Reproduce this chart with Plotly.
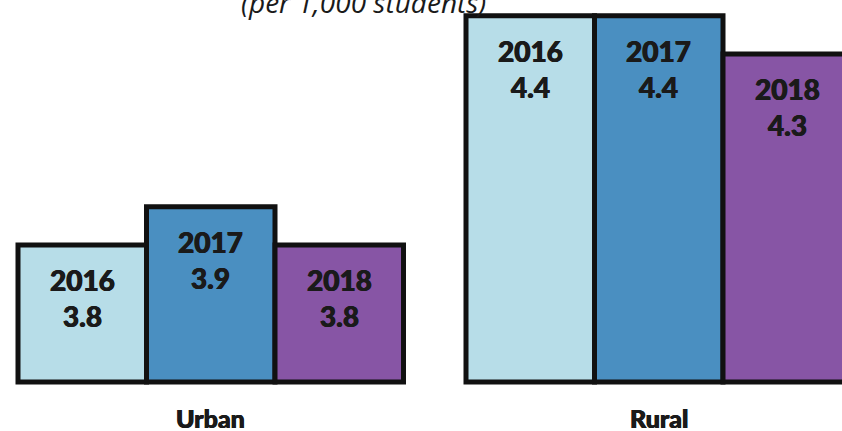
import plotly.graph_objects as go

# Rates per 1,000 students by locale and year
locales = ["Urban", "Rural"]
years = ["2016", "2017", "2018"]
rate_2016 = [3.8, 4.4]
rate_2017 = [3.9, 4.4]
rate_2018 = [3.8, 4.3]

series = {"2016": rate_2016, "2017": rate_2017, "2018": rate_2018}
colors = {"2016": "#B7DDE8", "2017": "#4A8FC1", "2018": "#8755A5"}

BASELINE = 3.441          # value axis starts here (truncated scale)
PX_PER_UNIT = 381.8
BARGAP = 0.1395
FONT = "Lato, 'Open Sans', sans-serif"
HEAVY = "0.4px 0 0 #1a1a1a, -0.4px 0 0 #1a1a1a"

cat_x = list(range(len(locales)))
bar_w = (1 - BARGAP) / len(years)

fig = go.Figure()
annotations = []
for i, yr in enumerate(years):
    vals = series[yr]
    offset = (i - 1) * bar_w
    fig.add_trace(go.Bar(
        x=[c + offset for c in cat_x],
        y=[v - BASELINE for v in vals],
        base=BASELINE,
        width=bar_w,
        marker=dict(color=colors[yr], line=dict(color="#111111", width=5)),
        name=yr,
        hoverinfo="skip",
    ))
    for c, v in zip(cat_x, vals):
        annotations.append(dict(
            x=c + offset, y=v, xref="x", yref="y",
            text=f"{yr}<br>{v:.1f}",
            showarrow=False, yanchor="top", yshift=-16,
            font=dict(family=FONT, size=28, color="#1a1a1a", weight=900,
                      shadow=HEAVY),
        ))

# Category labels below the bars
for c, name in zip(cat_x, locales):
    annotations.append(dict(
        x=c, y=0, xref="x", yref="paper", text=name,
        showarrow=False, yanchor="middle", yshift=-27,
        font=dict(family=FONT, size=25, color="#1a1a1a", weight=900,
                  shadow=HEAVY),
    ))

# Subtitle
annotations.append(dict(
    x=363 / 842, y=1, xref="paper", yref="paper",
    text="<i>(per 1,000 students)</i>", showarrow=False,
    yanchor="middle", yshift=-2,
    font=dict(family="'Open Sans', Lato, sans-serif", size=28, color="#1a1a1a"),
))

plot_h = 391
x0 = -210.75 / 448
fig.update_layout(
    width=842, height=431,
    margin=dict(l=0, r=0, t=0, b=431 - plot_h),
    barmode="overlay",
    showlegend=False,
    plot_bgcolor="white", paper_bgcolor="white",
    xaxis=dict(range=[x0, x0 + 842 / 448], visible=False),
    yaxis=dict(range=[BASELINE - 9 / PX_PER_UNIT, BASELINE + 382 / PX_PER_UNIT],
               visible=False),
    annotations=annotations,
)

fig.write_html("out.html")
